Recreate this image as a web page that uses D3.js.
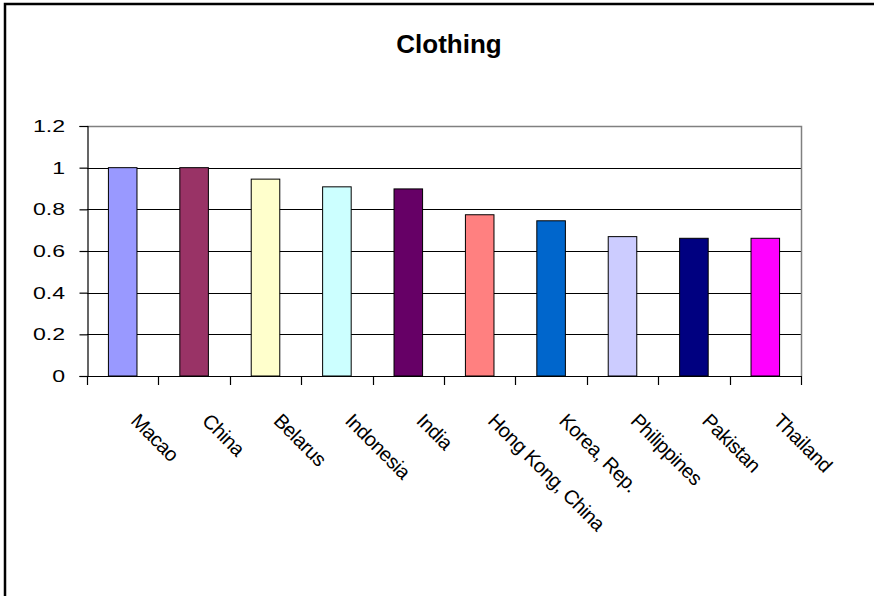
<!DOCTYPE html>
<html>
<head>
<meta charset="utf-8">
<script src="https://cdn.jsdelivr.net/npm/d3@7"></script>
<style>
  html, body { margin: 0; padding: 0; background: #ffffff; }
  svg { display: block; }
  text { font-family: "Liberation Sans", Arial, sans-serif; fill: #000; }
</style>
</head>
<body>
<svg id="chart" width="874" height="596"></svg>
<script>
// Share index by exporting country, clothing
const categories = ["Macao", "China", "Belarus", "Indonesia", "India",
  "Hong Kong, China", "Korea, Rep.", "Philippines", "Pakistan", "Thailand"];
const values = [1.0, 1.0, 0.945, 0.908, 0.898, 0.774, 0.745, 0.669, 0.661, 0.661];
const colors = ["#9999FF", "#993366", "#FFFFCC", "#CCFFFF", "#660066",
  "#FF8080", "#0066CC", "#CCCCFF", "#000080", "#FF00FF"];
const yTicks = [0, 0.2, 0.4, 0.6, 0.8, 1, 1.2];
const title = "Clothing";

const W = 874, H = 596;
const plot = { left: 87, right: 801, top: 126, bottom: 376 };

const svg = d3.select("#chart");
svg.append("rect").attr("width", W).attr("height", H).attr("fill", "#fff");

// chart frame (runs off the right and bottom edges)
svg.append("rect")
  .attr("x", 5).attr("y", 4)
  .attr("width", W + 20).attr("height", H + 20)
  .attr("fill", "none").attr("stroke", "#000").attr("stroke-width", 2.5);

svg.append("text")
  .attr("x", 449).attr("y", 53)
  .attr("text-anchor", "middle")
  .attr("font-size", 26).attr("font-weight", "bold")
  .text(title);

const x = d3.scaleBand().domain(categories).range([plot.left, plot.right]).padding(0);
const y = d3.scaleLinear().domain([0, 1.2]).range([plot.bottom, plot.top]);

// horizontal gridlines
svg.append("g").selectAll("line")
  .data(yTicks.filter(t => t > 0 && t < 1.2))
  .join("line")
  .attr("x1", plot.left).attr("x2", plot.right)
  .attr("y1", d => Math.round(y(d)) + 0.5).attr("y2", d => Math.round(y(d)) + 0.5)
  .attr("stroke", "#000").attr("stroke-width", 1);

// plot area border (top and right)
svg.append("path")
  .attr("d", `M${plot.left},${Math.round(y(1.2)) + 0.5}H${plot.right + 0.5}V${plot.bottom}`)
  .attr("fill", "none").attr("stroke", "#808080").attr("stroke-width", 1.5);

// bars: width is 1/2.5 of the category step, centred
const bw = x.bandwidth() / 2.5;
svg.append("g").selectAll("rect")
  .data(categories.map((c, i) => ({ c, v: values[i], col: colors[i] })))
  .join("rect")
  .attr("x", d => x(d.c) + (x.bandwidth() - bw) / 2)
  .attr("y", d => y(d.v))
  .attr("width", bw)
  .attr("height", d => y(0) - y(d.v))
  .attr("fill", d => d.col)
  .attr("stroke", "#000").attr("stroke-width", 1);

// y axis line and ticks
const yAxis = d3.axisLeft(y)
  .tickValues(yTicks)
  .tickSize(8)
  .tickFormat("");
const gy = svg.append("g")
  .attr("transform", `translate(${plot.left + 0.5},0)`)
  .call(yAxis);
gy.select(".domain").attr("stroke", "#000").attr("stroke-width", 1.2);
gy.selectAll(".tick line").attr("stroke", "#000").attr("stroke-width", 1.2);

// y tick labels, drawn wide
svg.append("g").selectAll("text")
  .data(yTicks)
  .join("text")
  .attr("transform", d => `translate(65,${y(d)}) scale(1.4,1)`)
  .attr("text-anchor", "end")
  .attr("dy", "0.36em")
  .attr("font-size", 16.5)
  .text(d => d3.format("~g")(d));

// x axis: ticks sit between categories
const boundaries = categories.map(c => x(c)).concat([plot.right]);
const gx = svg.append("g");
gx.append("line")
  .attr("x1", plot.left).attr("x2", plot.right + 1)
  .attr("y1", plot.bottom + 0.5).attr("y2", plot.bottom + 0.5)
  .attr("stroke", "#000").attr("stroke-width", 1.2);
gx.selectAll("line.tick")
  .data(boundaries)
  .join("line")
  .attr("class", "tick")
  .attr("x1", d => Math.round(d) + 0.5).attr("x2", d => Math.round(d) + 0.5)
  .attr("y1", plot.bottom).attr("y2", plot.bottom + 9)
  .attr("stroke", "#000").attr("stroke-width", 1.2);

// rotated category labels
gx.selectAll("text")
  .data(categories)
  .join("text")
  .attr("transform", d => `translate(${x(d) + x.bandwidth() / 2 + 7},${plot.bottom + 46}) rotate(45)`)
  .attr("font-size", 20)
  .attr("letter-spacing", -0.5)
  .text(d => d);
</script>
</body>
</html>
